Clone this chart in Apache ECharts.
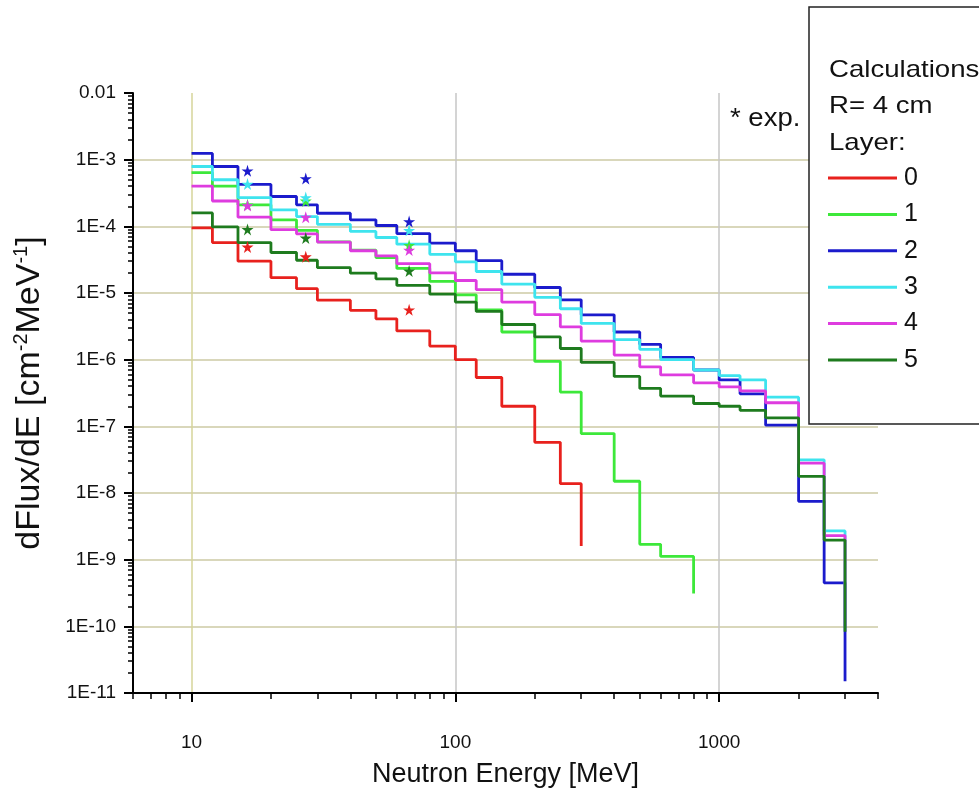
<!DOCTYPE html>
<html>
<head>
<meta charset="utf-8">
<script src="https://cdn.jsdelivr.net/npm/echarts@6/dist/echarts.min.js"></script>
<style>
html,body{margin:0;padding:0;background:#fff;}
#chart{width:979px;height:793px;}
</style>
</head>
<body>
<div id="chart"></div>
<script>
// Neutron energy bin edges [MeV]; bin i spans binEdges[i] .. binEdges[i+1]
const binEdges = [10,12,15,20,25,30,40,50,60,80,100,120,150,200,250,300,400,500,600,800,1000,1200,1500,2000,2500,3000];

// Calculated dFlux/dE per bin for each layer, plus the value the last step drops to
const layer0 = [9.5e-5,5.7e-5,3.0e-5,1.7e-5,1.16e-5,7.8e-6,5.5e-6,4.1e-6,2.7e-6,1.6e-6,1.0e-6,5.4e-7,2.0e-7,5.75e-8,1.38e-8];
const layer0End = 1.6e-9;
const layer1 = [6.4e-4,4.0e-4,2.1e-4,1.25e-4,8.7e-5,5.85e-5,4.4e-5,3.4e-5,2.34e-5,1.49e-5,9.4e-6,5.6e-6,2.6e-6,9.4e-7,3.26e-7,7.8e-8,1.5e-8,1.7e-9,1.12e-9];
const layer1End = 3.1e-10;
const layer2 = [1.24e-3,7.9e-4,4.25e-4,2.8e-4,2.1e-4,1.57e-4,1.25e-4,1.03e-4,7.8e-5,5.6e-5,4.3e-5,3.05e-5,1.91e-5,1.21e-5,7.9e-6,4.7e-6,2.6e-6,1.7e-6,1.08e-6,7.0e-7,4.96e-7,3.07e-7,1.04e-7,7.5e-9,4.5e-10];
const layer2End = 1.5e-11;
const layer3 = [7.9e-4,5.0e-4,2.7e-4,1.77e-4,1.4e-4,1.07e-4,8.4e-5,6.8e-5,5.4e-5,3.8e-5,2.94e-5,2.1e-5,1.36e-5,8.6e-6,5.8e-6,3.5e-6,2.0e-6,1.43e-6,1.0e-6,7.0e-7,5.75e-7,4.96e-7,2.74e-7,3.15e-8,2.7e-9];
const layer3End = 1.0e-10;
const layer4 = [4.0e-4,2.4e-4,1.37e-4,8.9e-5,7.7e-5,5.8e-5,4.3e-5,3.6e-5,2.75e-5,2.0e-5,1.54e-5,1.12e-5,7.3e-6,4.75e-6,3.1e-6,1.9e-6,1.17e-6,7.8e-7,5.9e-7,4.5e-7,3.9e-7,3.4e-7,2.26e-7,2.8e-8,2.3e-9];
const layer4End = 1.0e-10;
const layer5 = [1.59e-4,9.8e-5,5.7e-5,4.05e-5,3.1e-5,2.4e-5,1.98e-5,1.63e-5,1.3e-5,9.6e-6,7.3e-6,5.3e-6,3.37e-6,2.19e-6,1.47e-6,9.1e-7,5.6e-7,3.7e-7,2.84e-7,2.2e-7,2.0e-7,1.74e-7,1.34e-7,1.78e-8,1.97e-9];
const layer5End = 8.3e-11;

// Measured points (stars)
const expEnergy = [16.3, 27.1, 66.8];
const exp0 = [4.9e-5, 3.5e-5, 5.6e-6];
const exp1 = [2.1e-4, 2.4e-4, 5.2e-5];
const exp2 = [6.8e-4, 5.2e-4, 1.18e-4];
const exp3 = [4.3e-4, 2.7e-4, 8.7e-5];
const exp4 = [2.05e-4, 1.37e-4, 4.4e-5];
const exp5 = [9.0e-5, 6.7e-5, 2.14e-5];

// Axis ticks and labels
const xMajorTicks = [10, 100, 1000];
const xMinorTicks = [6,7,8,9,20,30,40,50,60,70,80,90,200,300,400,500,600,700,800,900,2000,3000,4000];
const yDecades = [-11,-10,-9,-8,-7,-6,-5,-4,-3,-2];
const yTickLabels = ['1E-11','1E-10','1E-9','1E-8','1E-7','1E-6','1E-5','1E-4','1E-3','0.01'];
const legendHeader = ['Calculations', 'R= 4 cm', 'Layer:'];
const layerNames = ['0','1','2','3','4','5'];

const layerColors = ['#e8211d', '#3de83a', '#1b1bcc', '#3ee4ee', '#de3cdf', '#1e7b1e'];
const FONT = '"Liberation Sans", Arial, sans-serif';
const X_MIN = 6, X_MAX = 4000;

const layers = [
  [layer0, layer0End], [layer1, layer1End], [layer2, layer2End],
  [layer3, layer3End], [layer4, layer4End], [layer5, layer5End]
];
const exps = [exp0, exp1, exp2, exp3, exp4, exp5];

const yMajorTicks = yDecades.map(e => Math.pow(10, e));
const yMinorTicks = [];
yDecades.slice(0, -1).forEach(e => {
  for (let k = 2; k <= 9; k++) yMinorTicks.push(k * Math.pow(10, e));
});

function stepData(values, endValue) {
  const pts = values.map((v, i) => [binEdges[i], v]);
  pts.push([binEdges[values.length], endValue]);
  return pts;
}

const STAR = 'path://M50,0 L61,35 L98,35 L68,57 L79,91 L50,70 L21,91 L32,57 L2,35 L39,35 Z';

// Grid lines: horizontal at inner decades, vertical at the major energy ticks
const gridLineData = [];
yDecades.slice(1, -1).forEach(e => {
  const v = Math.pow(10, e);
  gridLineData.push([{ coord: [X_MIN, v], lineStyle: { color: '#cdcaa4' } }, { coord: [X_MAX, v] }]);
});
gridLineData.push([{ coord: [10, 1e-11], lineStyle: { color: '#d6d49a' } }, { coord: [10, 1e-2] }]);
gridLineData.push([{ coord: [100, 1e-11], lineStyle: { color: '#c6c6c6' } }, { coord: [100, 1e-2] }]);
gridLineData.push([{ coord: [1000, 1e-11], lineStyle: { color: '#c6c6c6' } }, { coord: [1000, 1e-2] }]);

const series = [{
  name: 'grid',
  type: 'line',
  data: [],
  silent: true,
  z: 0,
  markLine: {
    silent: true,
    z: 0,
    symbol: ['none', 'none'],
    label: { show: false },
    lineStyle: { type: 'solid', width: 1.5 },
    data: gridLineData
  }
}];

layers.forEach(([vals, endVal], i) => {
  series.push({
    name: layerNames[i],
    type: 'line',
    step: 'end',
    showSymbol: false,
    symbol: 'none',
    data: stepData(vals, endVal),
    lineStyle: { color: layerColors[i], width: 2.8 },
    itemStyle: { color: layerColors[i] },
    z: 3
  });
});

exps.forEach((vals, i) => {
  series.push({
    name: 'exp ' + layerNames[i],
    type: 'scatter',
    symbol: STAR,
    symbolSize: 12,
    data: vals.map((v, j) => [expEnergy[j], v]),
    itemStyle: { color: layerColors[i], opacity: 1 },
    z: 4
  });
});

const chart = echarts.init(document.getElementById('chart'), null, { renderer: 'canvas' });

const axisLineStyle = { color: '#000', width: 2 };

chart.setOption({
  animation: false,
  backgroundColor: '#fff',
  grid: { left: 133, right: 101, top: 93, bottom: 95, containLabel: false },
  xAxis: [{
    type: 'log',
    logBase: 10,
    min: X_MIN,
    max: X_MAX,
    position: 'bottom',
    axisLine: { show: true, lineStyle: axisLineStyle },
    axisTick: { show: true, customValues: xMajorTicks, length: 9, lineStyle: { color: '#000', width: 2 } },
    axisLabel: { customValues: xMajorTicks, fontSize: 19, color: '#111', fontFamily: FONT, margin: 40,
      formatter: v => String(Math.round(v)) },
    splitLine: { show: false },
    name: 'Neutron Energy [MeV]',
    nameLocation: 'middle',
    nameGap: 68,
    nameTextStyle: { fontSize: 27, color: '#111', fontFamily: FONT }
  }, {
    type: 'log',
    logBase: 10,
    min: X_MIN,
    max: X_MAX,
    position: 'bottom',
    axisLine: { show: false },
    axisTick: { show: true, customValues: xMinorTicks, length: 6, lineStyle: { color: '#000', width: 1.5 } },
    axisLabel: { show: false },
    splitLine: { show: false }
  }],
  yAxis: [{
    type: 'log',
    logBase: 10,
    min: 1e-11,
    max: 1e-2,
    position: 'left',
    axisLine: { show: true, lineStyle: axisLineStyle },
    axisTick: { show: true, customValues: yMajorTicks, length: 9, lineStyle: { color: '#000', width: 2 } },
    axisLabel: { customValues: yMajorTicks, fontSize: 19, color: '#111', fontFamily: FONT, margin: 17,
      formatter: v => yTickLabels[yDecades.indexOf(Math.round(Math.log10(v)))] },
    splitLine: { show: false },
    name: '{t|dFlux/dE [cm}{s|-2}{t|MeV}{s|-1}{t|]}',
    nameLocation: 'middle',
    nameRotate: 90,
    nameGap: 84,
    nameTextStyle: {
      rich: {
        t: { fontSize: 34, color: '#111', fontFamily: FONT, lineHeight: 38 },
        s: { fontSize: 20, color: '#111', fontFamily: FONT, verticalAlign: 'top', lineHeight: 22 }
      }
    }
  }, {
    type: 'log',
    logBase: 10,
    min: 1e-11,
    max: 1e-2,
    position: 'left',
    axisLine: { show: false },
    axisTick: { show: true, customValues: yMinorTicks, length: 5, lineStyle: { color: '#000', width: 1.5 } },
    axisLabel: { show: false },
    splitLine: { show: false }
  }],
  legend: {
    data: layerNames,
    orient: 'vertical',
    left: 809,
    top: 7,
    z: 6,
    padding: [156, 300, 49, 19],
    icon: 'rect',
    itemWidth: 69,
    itemHeight: 3,
    itemGap: 6.4,
    backgroundColor: '#fff',
    borderColor: '#222',
    borderWidth: 1.5,
    selectedMode: false,
    textStyle: { fontSize: 25, lineHeight: 30, color: '#111', fontFamily: FONT, padding: [0, 0, 0, 2] }
  },
  graphic: [
    ...legendHeader.map((t, i) => ({
      type: 'text', x: 829, y: 70 + i * 36.5, z: 100, scaleX: 1.15,
      style: { text: t, font: '24px ' + FONT, fill: '#111', verticalAlign: 'middle', align: 'left' }
    })),
    {
      type: 'text', x: 730, y: 119, z: 100, scaleX: 1.1,
      style: { text: '* exp.', font: '25px ' + FONT, fill: '#111', verticalAlign: 'middle', align: 'left' }
    }
  ],
  series: series
});
</script>
</body>
</html>
